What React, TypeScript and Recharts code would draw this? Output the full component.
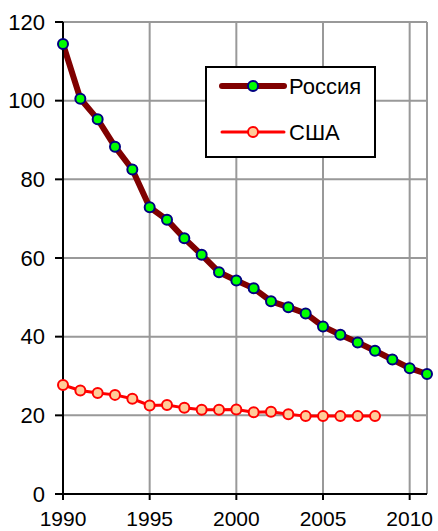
import React from 'react';
import { LineChart, Line, XAxis, YAxis, CartesianGrid, ReferenceLine } from 'recharts';

const years = [1990, 1991, 1992, 1993, 1994, 1995, 1996, 1997, 1998, 1999, 2000, 2001, 2002, 2003, 2004, 2005, 2006, 2007, 2008, 2009, 2010, 2011];
const russia = [114.4, 100.5, 95.3, 88.3, 82.5, 72.9, 69.7, 65.0, 60.8, 56.4, 54.3, 52.3, 49.0, 47.5, 45.9, 42.6, 40.5, 38.5, 36.4, 34.2, 32.0, 30.5];
const usa = [27.7, 26.3, 25.7, 25.2, 24.2, 22.5, 22.6, 21.9, 21.4, 21.4, 21.5, 20.8, 20.9, 20.3, 19.8, 19.8, 19.8, 19.8, 19.8, null, null, null];
const xTicks = [1990, 1995, 2000, 2005, 2010];
const yTicks = [0, 20, 40, 60, 80, 100, 120];
const seriesNames = ['Россия', 'США'];

const data = years.map((y, i) => ({ year: y, russia: russia[i], usa: usa[i] }));

const FONT = '"Liberation Sans", Arial, sans-serif';

const LegendBox = () => (
  <svg width={171} height={92} style={{ display: 'block', position: 'absolute', left: 205, top: 66 }}>
    <rect x={1} y={1} width={169} height={90} fill="#fff" stroke="#000" strokeWidth={2} />
    <line x1={17} y1={20} x2={79} y2={20} stroke="#800000" strokeWidth={6} strokeLinecap="round" />
    <circle cx={48} cy={20} r={5} fill="#00ff00" stroke="#000080" strokeWidth={2} />
    <text x={84} y={28} fontSize={22} fontFamily={FONT} fill="#000">{seriesNames[0]}</text>
    <line x1={17} y1={66} x2={79} y2={66} stroke="#ff0000" strokeWidth={3} strokeLinecap="round" />
    <circle cx={48} cy={66} r={5} fill="#ffcc99" stroke="#ff0000" strokeWidth={2} />
    <text x={84} y={74} fontSize={22} fontFamily={FONT} fill="#000">{seriesNames[1]}</text>
  </svg>
);

export default function App() {
  return (
    <div style={{ position: 'absolute', left: 0, top: 0, width: 438, height: 531, background: '#fff' }}>
      <LineChart
        width={438}
        height={531}
        data={data}
        margin={{ top: 22, right: 11, bottom: 7, left: 0 }}
        style={{ fontFamily: FONT }}
      >
        <CartesianGrid stroke="#999999" strokeWidth={2} />
        <ReferenceLine x={2011} stroke="#999999" strokeWidth={2} />
        <XAxis
          dataKey="year"
          type="number"
          domain={[1990, 2011]}
          ticks={xTicks}
          height={30}
          tickSize={6}
          tickMargin={11}
          axisLine={{ stroke: '#000', strokeWidth: 2 }}
          tickLine={{ stroke: '#000', strokeWidth: 2 }}
          tick={{ fill: '#000', fontSize: 21, fontFamily: FONT }}
          interval={0}
        />
        <YAxis
          type="number"
          domain={[0, 120]}
          ticks={yTicks}
          width={63}
          tickSize={8}
          tickMargin={10}
          axisLine={{ stroke: '#000', strokeWidth: 2 }}
          tickLine={{ stroke: '#000', strokeWidth: 2 }}
          tick={{ fill: '#000', fontSize: 22, fontFamily: FONT }}
          interval={0}
        />
        <Line
          name={seriesNames[1]}
          dataKey="usa"
          stroke="#ff0000"
          strokeWidth={3}
          dot={{ r: 5, fill: '#ffcc99', stroke: '#ff0000', strokeWidth: 2 }}
          isAnimationActive={false}
          connectNulls={false}
        />
        <Line
          name={seriesNames[0]}
          dataKey="russia"
          stroke="#800000"
          strokeWidth={6}
          dot={{ r: 5, fill: '#00ff00', stroke: '#000080', strokeWidth: 2 }}
          isAnimationActive={false}
        />
      </LineChart>
      <LegendBox />
    </div>
  );
}
